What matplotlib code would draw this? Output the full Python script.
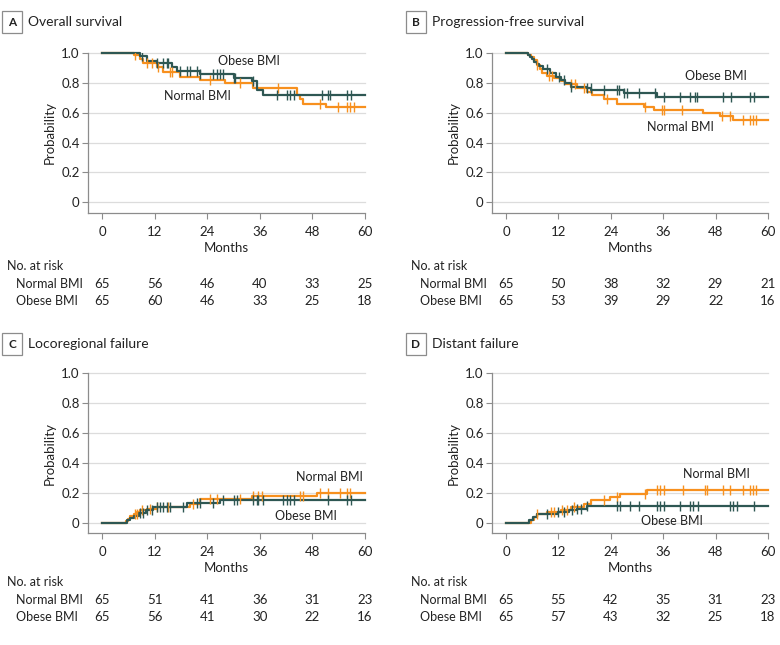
import matplotlib
matplotlib.use("Agg")
import matplotlib.pyplot as plt
import numpy as np
from matplotlib.transforms import blended_transform_factory

plt.rcParams['font.family'] = ['Lato', 'DejaVu Sans']

ORANGE = "#F7901E"
TEAL = "#2E5753"
GRID = "#dcdcdc"
SPINE = "#8c8c8c"

months_ticks = [0, 12, 24, 36, 48, 60]
prob_ticks = [0, 0.2, 0.4, 0.6, 0.8, 1.0]
prob_labels = ["0", "0.2", "0.4", "0.6", "0.8", "1.0"]

# ---- A: overall survival ----
A_normal_t = [7.2, 8.7, 9.4, 12.5, 14.0, 17.8, 22.3, 28.1, 34.5, 44.4, 45.2, 45.9, 51.2]
A_normal_s = [0.985, 0.96, 0.93, 0.905, 0.87, 0.84, 0.82, 0.80, 0.765, 0.72, 0.69, 0.66, 0.64]
A_normal_c = [7.5, 10.2, 11.3, 12.8, 15.5, 15.9, 24.6, 31.5, 40.2, 49.8, 53.9, 55.8, 56.6, 57.4]
A_obese_t = [8.7, 10.2, 12.5, 15.9, 17.0, 22.3, 30.0, 34.2, 35.3, 36.8]
A_obese_s = [0.975, 0.946, 0.928, 0.906, 0.876, 0.856, 0.834, 0.81, 0.75, 0.72]
A_obese_c = [9.1, 12.5, 14.0, 14.8, 15.1, 17.8, 19.3, 20.1, 21.6, 22.3, 25.4, 26.2, 26.9,
             27.7, 30.0, 30.4, 34.5, 40.0, 42.1, 42.9, 43.7, 50.2, 51.6, 52.0, 55.8, 56.9]
A_risk_normal = [65, 56, 46, 40, 33, 25]
A_risk_obese = [65, 60, 46, 33, 25, 18]

# ---- B: progression-free survival ----
B_normal_t = [5.0, 5.7, 6.3, 7.0, 7.7, 8.3, 9.5, 11.0, 12.5, 13.5, 16.3, 18.6, 19.8,
              22.4, 25.4, 31.5, 33.8, 45.2, 49.0, 52.0]
B_normal_s = [0.985, 0.97, 0.95, 0.92, 0.89, 0.862, 0.845, 0.83, 0.81, 0.79, 0.765, 0.74,
              0.715, 0.69, 0.656, 0.634, 0.616, 0.60, 0.578, 0.553]
B_normal_c = [7.2, 9.9, 10.6, 14.8, 15.9, 17.8, 23.2, 31.9, 35.7, 36.1, 40.2, 49.4, 51.3,
              54.3, 55.8, 56.6, 57.3]
B_obese_t = [5.0, 5.5, 6.0, 6.5, 7.0, 7.5, 8.5, 10.0, 11.5, 12.5, 13.5, 14.8, 18.5, 19.5,
             27.0, 34.5]
B_obese_s = [0.985, 0.97, 0.955, 0.94, 0.925, 0.91, 0.89, 0.865, 0.84, 0.818, 0.795, 0.773,
             0.762, 0.75, 0.73, 0.705]
B_obese_c = [9.5, 12.1, 13.3, 14.8, 18.6, 19.4, 22.4, 25.4, 25.8, 27.0, 27.7, 30.4, 34.2,
             36.1, 39.9, 42.1, 43.3, 43.7, 49.7, 51.6, 55.8, 56.9]
B_risk_normal = [65, 50, 38, 32, 29, 21]
B_risk_obese = [65, 53, 39, 29, 22, 16]

# ---- C: locoregional failure ----
C_normal_t = [5.5, 6.0, 6.5, 7.2, 8.0, 8.7, 10.2, 12.5, 20.1, 22.3, 34.3, 49.0]
C_normal_s = [0.015, 0.03, 0.045, 0.06, 0.072, 0.084, 0.096, 0.11, 0.124, 0.157, 0.178, 0.20]
C_normal_c = [7.5, 7.9, 9.1, 10.9, 12.5, 15.1, 20.8, 24.6, 26.2, 31.5, 34.5, 35.7, 36.4,
              45.2, 45.9, 49.8, 51.6, 54.3, 55.8, 56.6]
C_obese_t = [5.8, 6.5, 7.3, 8.5, 10.0, 11.7, 19.3, 26.9]
C_obese_s = [0.018, 0.035, 0.05, 0.066, 0.085, 0.107, 0.133, 0.151]
C_obese_c = [8.7, 9.4, 10.2, 11.3, 12.5, 13.2, 14.0, 14.8, 15.5, 18.5, 21.6, 22.3, 25.4,
             27.7, 30.0, 30.7, 34.5, 35.3, 35.7, 36.8, 41.4, 42.1, 42.9, 43.7, 51.6, 55.8, 56.9]
C_risk_normal = [65, 51, 41, 36, 31, 23]
C_risk_obese = [65, 56, 41, 30, 22, 16]

# ---- D: distant failure ----
D_normal_t = [5.7, 6.5, 7.2, 9.5, 12.5, 14.8, 17.8, 19.4, 23.9, 26.2, 32.3]
D_normal_s = [0.018, 0.04, 0.062, 0.073, 0.084, 0.107, 0.129, 0.151, 0.173, 0.196, 0.218]
D_normal_c = [7.2, 10.3, 11.0, 12.9, 14.0, 15.6, 22.4, 25.4, 31.9, 34.5, 35.3, 36.1, 40.6,
              45.6, 46.0, 49.7, 51.3, 54.3, 55.8, 56.6, 57.3]
D_obese_t = [5.3, 6.1, 7.2, 11.8, 14.5, 16.3, 18.6]
D_obese_s = [0.018, 0.04, 0.062, 0.073, 0.085, 0.096, 0.113]
D_obese_c = [9.5, 11.8, 13.3, 15.2, 16.3, 17.1, 18.6, 25.4, 26.2, 28.5, 30.4, 34.5, 35.3,
             36.1, 39.9, 42.1, 42.9, 44.0, 51.3, 52.0, 52.8, 56.9]
D_risk_normal = [65, 55, 42, 35, 31, 23]
D_risk_obese = [65, 57, 43, 32, 25, 18]

panels = [
    dict(letter="A", title="Overall survival", start=1.0,
         normal=(A_normal_t, A_normal_s, A_normal_c), obese=(A_obese_t, A_obese_s, A_obese_c),
         risk=(A_risk_normal, A_risk_obese),
         lab_obese=(33.5, 0.945), lab_normal=(21.7, 0.71)),
    dict(letter="B", title="Progression-free survival", start=1.0,
         normal=(B_normal_t, B_normal_s, B_normal_c), obese=(B_obese_t, B_obese_s, B_obese_c),
         risk=(B_risk_normal, B_risk_obese),
         lab_obese=(48.1, 0.845), lab_normal=(39.9, 0.506)),
    dict(letter="C", title="Locoregional failure", start=0.0,
         normal=(C_normal_t, C_normal_s, C_normal_c), obese=(C_obese_t, C_obese_s, C_obese_c),
         risk=(C_risk_normal, C_risk_obese),
         lab_obese=(46.5, 0.05), lab_normal=(52.0, 0.31)),
    dict(letter="D", title="Distant failure", start=0.0,
         normal=(D_normal_t, D_normal_s, D_normal_c), obese=(D_obese_t, D_obese_s, D_obese_c),
         risk=(D_risk_normal, D_risk_obese),
         lab_obese=(38.0, 0.015), lab_normal=(48.1, 0.33)),
]

W, H = 780, 645
fig = plt.figure(figsize=(W / 100, H / 100), dpi=100)

# axes boxes in pixels: left spine x, right end x, top y(1.0), bottom spine y
boxes = [(88, 365, 52.7, 213), (492, 768, 52.7, 213),
         (88, 365, 373.3, 533), (492, 768, 373.3, 533)]
# text rows (pixels from top): title, no. at risk, normal, obese
rows = [(22, 266, 284, 301), (22, 266, 284, 301),
        (344, 582, 600, 617), (344, 582, 600, 617)]
label_x = [(7, 16), (411, 420), (7, 16), (411, 420)]


def step_xy(t, s, start):
    x = np.concatenate([[0], t, [60]])
    y = np.concatenate([[start], s, [s[-1]]])
    return x, y


def value_at(t, s, start, c):
    t = np.asarray(t)
    s = np.asarray(s)
    idx = np.searchsorted(t, c, side="right")
    return np.where(idx == 0, start, s[np.maximum(idx - 1, 0)])


for p, (l, r, top, bot), (ty, ry, ny, oy), (lx1, lx2) in zip(panels, boxes, rows, label_x):
    ppu = 149.7  # pixels per probability unit
    y_bot = -(bot - (top + ppu)) / ppu
    ax = fig.add_axes([l / W, 1 - bot / H, (r - l) / W, (bot - top) / H])
    x0px = l + 14
    ppm = (r - x0px) / 60
    ax.set_xlim(-14 / ppm, 60)
    ax.set_ylim(y_bot, 1.0)

    for yv in prob_ticks:
        ax.axhline(yv, color=GRID, lw=0.9, zorder=0, clip_on=False)

    for key, col in (("normal", ORANGE), ("obese", TEAL)):
        t, s, c = p[key]
        x, y = step_xy(t, s, p["start"])
        ax.step(x, y, where="post", color=col, lw=1.6, zorder=3, clip_on=False)
        cy = value_at(t, s, p["start"], c)
        ax.plot(c, cy, ls="none", marker="|", ms=6.5, mew=1.0, color=col, zorder=4)

    ax.text(*p["lab_obese"], "Obese BMI", ha="center", va="center", fontsize=9, color="#222")
    ax.text(*p["lab_normal"], "Normal BMI", ha="center", va="center", fontsize=9, color="#222")

    ax.set_xticks(months_ticks)
    ax.set_yticks(prob_ticks)
    ax.set_yticklabels(prob_labels)
    for sp in ("top", "right"):
        ax.spines[sp].set_visible(False)
    for sp in ("left", "bottom"):
        ax.spines[sp].set_color(SPINE)
        ax.spines[sp].set_linewidth(0.9)
    ax.tick_params(direction="out", length=4, width=0.8, color=SPINE,
                   labelsize=9.5, labelcolor="#222")
    ax.tick_params(axis="x", pad=5)
    ax.tick_params(axis="y", pad=2)
    ax.set_ylabel("Probability", fontsize=9.5, color="#222", labelpad=4)
    ax.set_xlabel("Months", fontsize=9.5, color="#222", labelpad=3)

    # panel letter and title
    fig.text((lx1 + 5) / W, 1 - ty / H, p["letter"], fontsize=8.5, fontweight="bold",
             ha="center", va="center", color="#222",
             bbox=dict(boxstyle="square,pad=0.5", fc="white", ec=SPINE, lw=0.9))
    fig.text((lx1 + 21) / W, 1 - ty / H, p["title"], fontsize=10, ha="left",
             va="center", color="#222")

    # number at risk table
    tr = blended_transform_factory(ax.transData, fig.transFigure)
    fig.text(lx1 / W, 1 - ry / H, "No. at risk", fontsize=9, ha="left", va="center", color="#222")
    fig.text(lx2 / W, 1 - ny / H, "Normal BMI", fontsize=9, ha="left", va="center", color="#222")
    fig.text(lx2 / W, 1 - oy / H, "Obese BMI", fontsize=9, ha="left", va="center", color="#222")
    rn, ro = p["risk"]
    for m, a, b in zip(months_ticks, rn, ro):
        ax.text(m, 1 - ny / H, str(a), transform=tr, fontsize=9.5, ha="center", va="center",
                color="#222")
        ax.text(m, 1 - oy / H, str(b), transform=tr, fontsize=9.5, ha="center", va="center",
                color="#222")

fig.savefig("out.png", dpi=100)
